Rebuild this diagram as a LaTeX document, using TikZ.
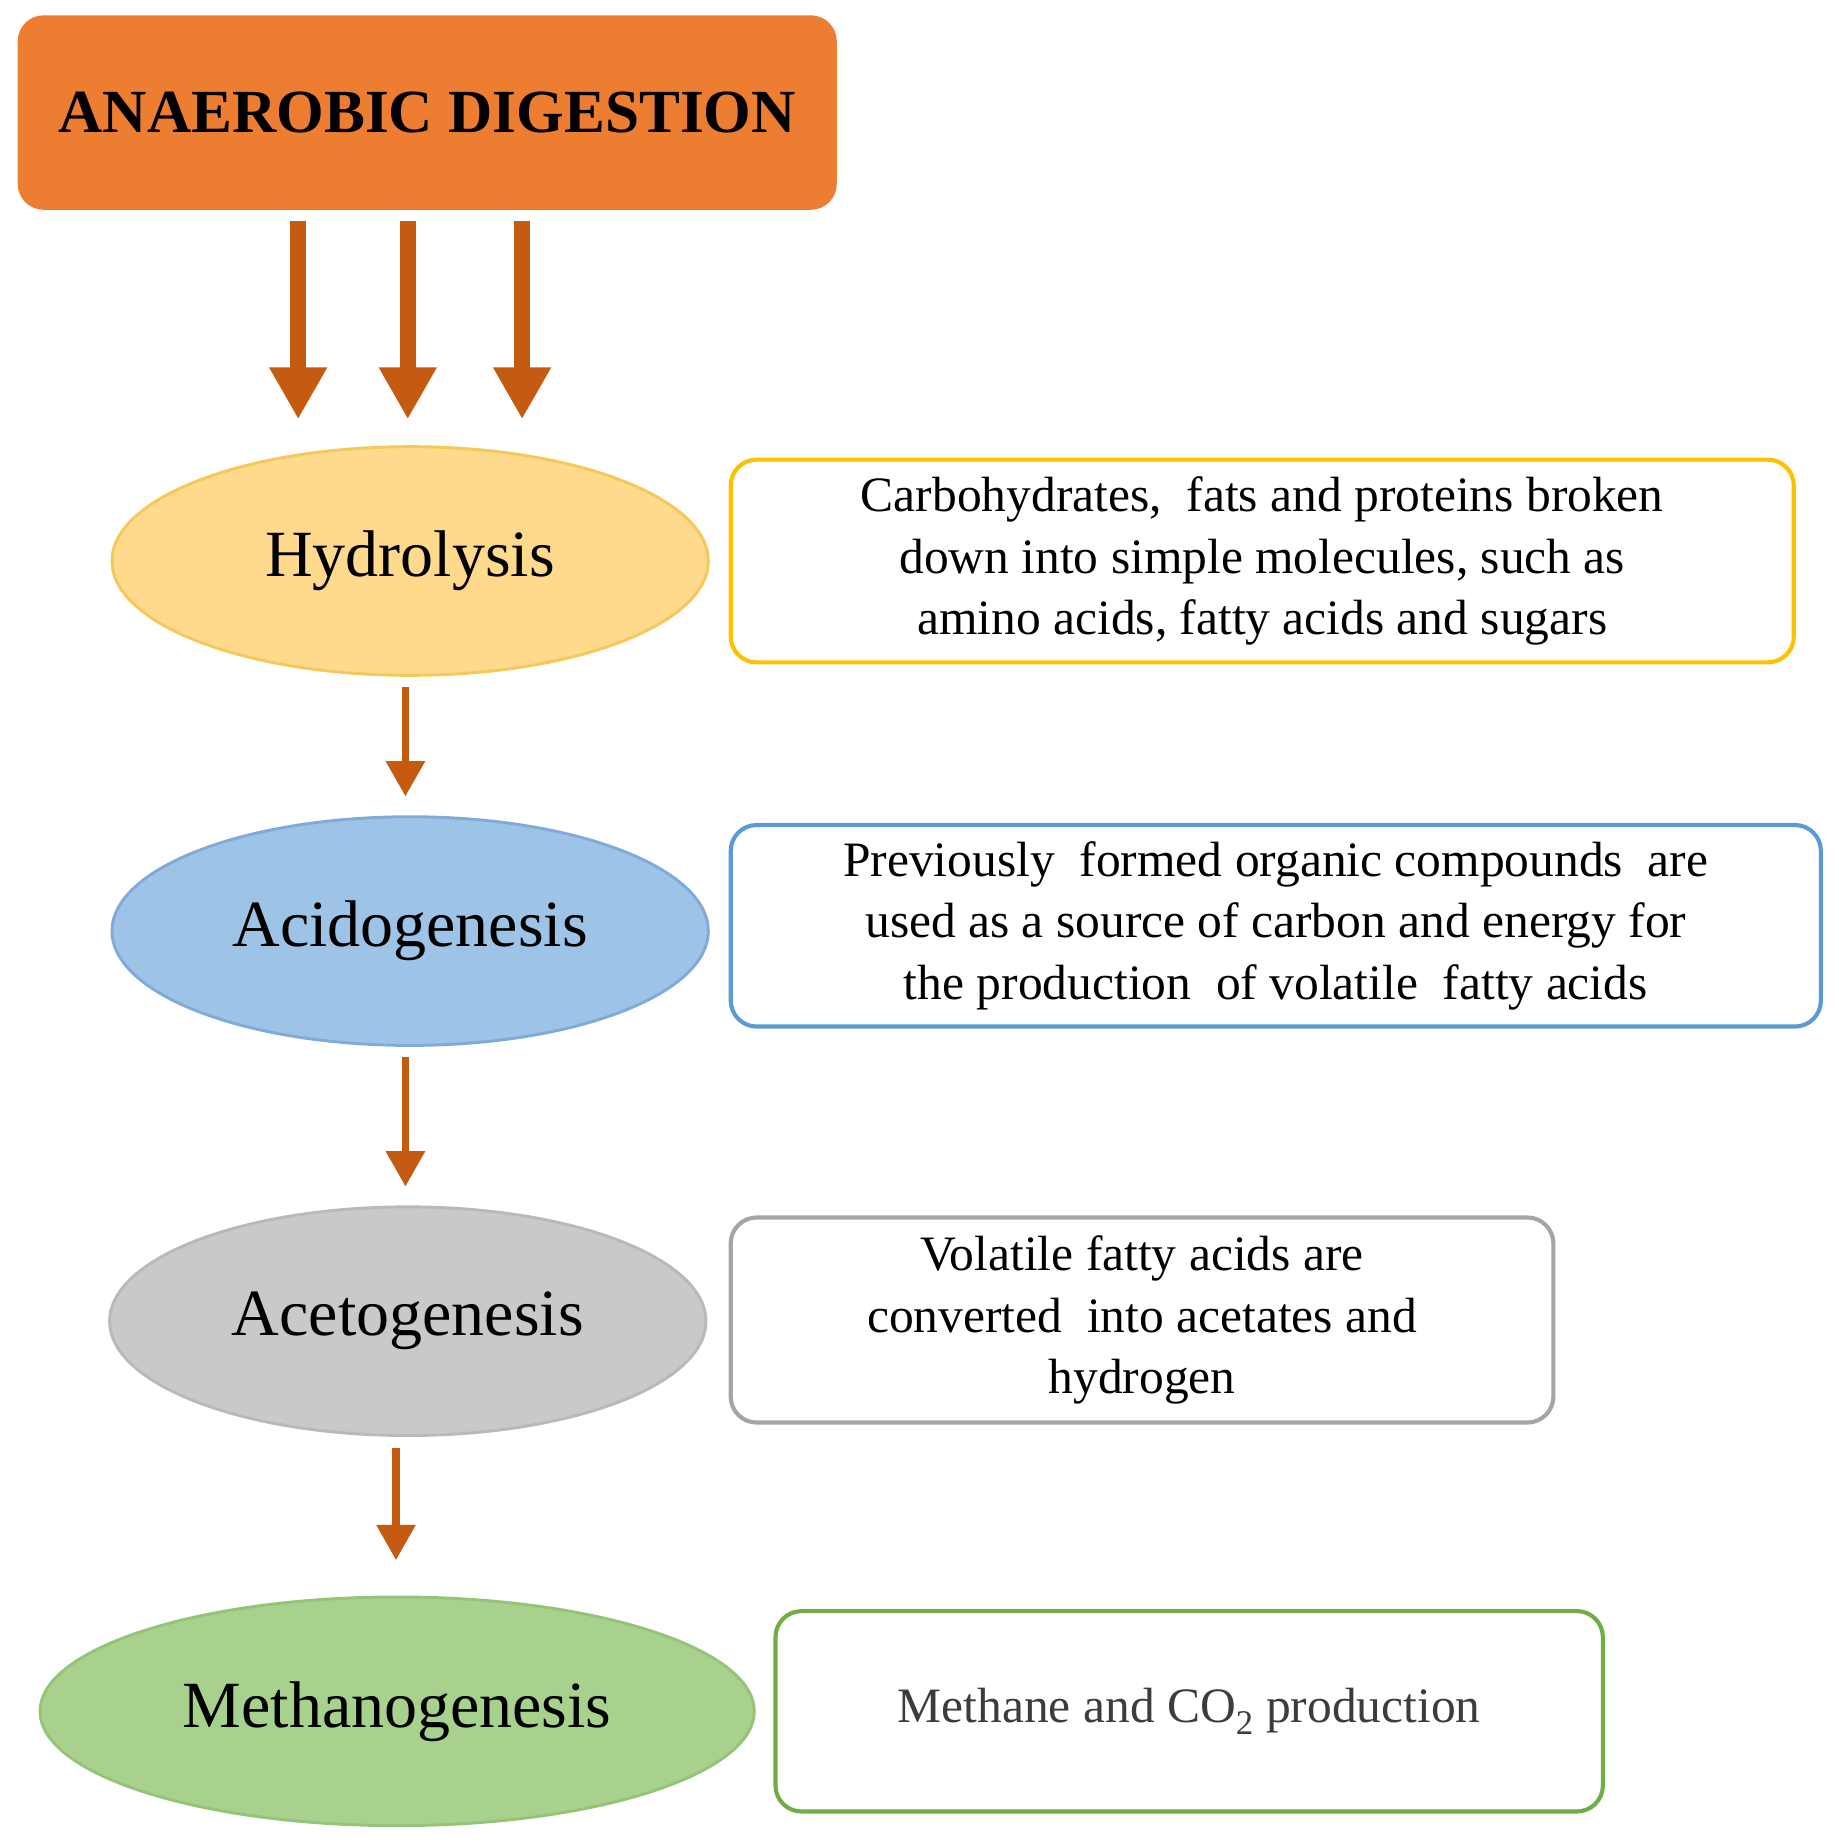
\documentclass[tikz,border=0pt]{standalone}
\usepackage{fontspec}
\setmainfont{Liberation Serif}
\usetikzlibrary{arrows.meta,shapes.geometric}
\definecolor{org}{HTML}{ED7D31}
\definecolor{arr}{HTML}{C55A11}
\begin{document}
\begin{tikzpicture}[x=1pt,y=-1pt,
  ell/.style={ellipse,minimum width=506pt,minimum height=194pt,line width=2.5pt,inner sep=0pt,font=\fontsize{56}{60}\selectfont},
  box/.style={rounded corners=22pt,line width=3.5pt,draw,fill=white,align=center,inner sep=0pt,font=\fontsize{42}{52}\selectfont},
  big/.style={arr,line width=14pt,-{Triangle[width=46pt,length=44pt]}},
  small/.style={arr,line width=6pt,-{Triangle[width=32pt,length=30pt]}}]
\useasboundingbox (0,0) rectangle (1560,1568);
\node[fill=org,rounded corners=22pt,minimum width=695pt,minimum height=165pt,font=\bfseries\fontsize{52}{60}\selectfont] (t) at (362.5,95.5) {ANAEROBIC DIGESTION};
\node[ell,fill={rgb,255:red,255;green,217;blue,140},draw={rgb,255:red,245;green,200;blue,90}] (h) at (348,476) {Hydrolysis};
\node[ell,fill={rgb,255:red,157;green,195;blue,230},draw={rgb,255:red,130;green,170;blue,215}] (a) at (348,790) {Acidogenesis};
\node[ell,fill={rgb,255:red,201;green,201;blue,201},draw={rgb,255:red,185;green,185;blue,185}] (c) at (346,1121) {Acetogenesis};
\node[ell,minimum width=606pt,fill={rgb,255:red,169;green,209;blue,142},draw={rgb,255:red,150;green,195;blue,120}] (m) at (337,1452) {Methanogenesis};
\node[box,draw={rgb,255:red,255;green,192;blue,0},minimum width=902pt,minimum height=172pt] (b1) at (1071,476) {Carbohydrates,\ \ fats and\ proteins\ broken\\down\ into\ simple\ molecules,\ such as\\amino acids,\ fatty acids and sugars};
\node[box,draw={rgb,255:red,91;green,155;blue,213},minimum width=925pt,minimum height=171pt] (b2) at (1082.5,785.5) {Previously\ \ formed organic compounds\ \ are\\used\ as a source\ of carbon and energy for\\the production\ \ of volatile\ \ fatty acids};
\node[box,draw={rgb,255:red,165;green,165;blue,165},minimum width=698pt,minimum height=174pt] (b3) at (969,1120) {Volatile\ fatty acids\ are\\converted\ \ into acetates\ and\\hydrogen};
\node[box,draw={rgb,255:red,112;green,173;blue,71},minimum width=702pt,minimum height=170pt,text={rgb,255:red,60;green,60;blue,60}] (b4) at (1009,1452) {Methane\ and CO\textsubscript{2} production};
\foreach \x in {253,346,443}
  \draw[big,shorten <=9pt,shorten >=22pt] (t.south -| \x,0) -- (h.north -| \x,0);
\draw[small,shorten <=9pt,shorten >=16pt] (h.south -| 344,0) -- (a.north -| 344,0);
\draw[small,shorten <=9pt,shorten >=16pt] (a.south -| 344,0) -- (c.north -| 344,0);
\draw[small,shorten <=9pt,shorten >=30pt] (c.south -| 336,0) -- (m.north -| 336,0);
\end{tikzpicture}
\end{document}
